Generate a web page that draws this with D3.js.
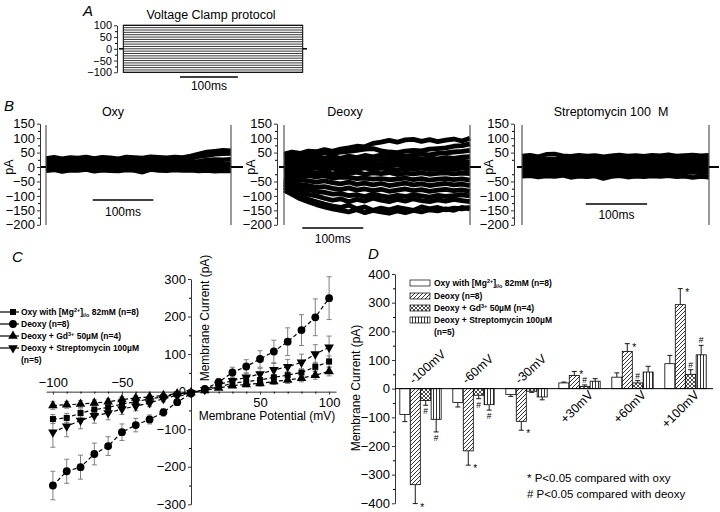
<!DOCTYPE html>
<html>
<head>
<meta charset="utf-8">
<script src="https://cdn.jsdelivr.net/npm/d3@7"></script>
<style>
body { margin: 0; background: #fff; }
svg { display: block; font-family: "Liberation Sans", Arial, sans-serif; }
</style>
</head>
<body>
<svg width="720" height="512"></svg>
<script>
// ---------- data ----------
const protocolSteps = [-100, -90, -80, -70, -60, -50, -40, -30, -20, -10, 0, 10, 20, 30, 40, 50, 60, 70, 80, 90, 100];

// panel B: current traces (pA), sampled along the 300 ms pulse
const oxyTraces = [
  [30, 34, 29, 33, 31, 35, 30, 34, 32, 29, 35, 33, 31, 36, 34, 32, 35, 33, 38, 45, 52, 55, 58, 56],
  [22, 26, 21, 25, 24, 27, 22, 26, 23, 25, 28, 24, 26, 29, 25, 27, 26, 28, 30, 36, 40, 44, 46, 47],
  [14, 17, 12, 16, 15, 18, 13, 17, 15, 14, 18, 16, 14, 19, 16, 15, 18, 16, 17, 20, 24, 26, 25, 27],
  [5, 8, 3, 7, 6, 9, 4, 8, 6, 5, 9, 7, 5, 10, 7, 6, 9, 7, 8, 9, 10, 11, 10, 12],
  [-4, -1, -6, -2, -3, 0, -5, -1, -3, -4, 0, -2, -4, 1, -2, -3, 0, -2, -1, 0, -2, -1, 0, -1],
  [-13, -10, -16, -11, -12, -9, -15, -11, -13, -14, -10, -12, -18, -9, -12, -13, -10, -12, -11, -14, -12, -15, -13, -14]
];
const deoxyTraces = [
  [45, 52, 47, 55, 53, 60, 54, 62, 66, 72, 70, 82, 86, 92, 86, 94, 96, 89, 95, 88, 93, 97, 90, 100],
  [38, 44, 40, 46, 44, 50, 45, 52, 54, 58, 62, 64, 56, 52, 50, 55, 58, 56, 62, 64, 66, 72, 74, 80],
  [30, 35, 28, 34, 36, 31, 36, 30, 38, 33, 40, 35, 41, 37, 43, 38, 41, 45, 42, 47, 49, 52, 54, 58],
  [22, 26, 19, 24, 27, 22, 26, 21, 28, 24, 29, 25, 30, 26, 29, 25, 30, 27, 31, 28, 33, 30, 34, 36],
  [12, 16, 9, 14, 17, 12, 16, 11, 18, 14, 13, 17, 12, 16, 18, 13, 17, 14, 18, 15, 19, 16, 20, 18],
  [2, 6, -1, 4, 7, 1, 5, 0, 6, 3, 2, 6, 1, 4, 7, 2, 5, 3, 6, 3, 7, 4, 8, 5],
  [-8, -4, -11, -6, -3, -9, -4, -10, -5, -8, -3, -9, -4, -7, -11, -5, -8, -4, -9, -6, -5, -8, -4, -7],
  [-18, -15, -22, -17, -20, -16, -24, -19, -22, -18, -25, -20, -23, -19, -26, -21, -24, -20, -25, -22, -20, -24, -21, -23],
  [-28, -26, -32, -30, -34, -30, -38, -35, -36, -40, -38, -42, -40, -44, -42, -38, -44, -40, -45, -42, -40, -44, -41, -45],
  [-36, -42, -44, -48, -52, -48, -54, -58, -52, -60, -56, -62, -57, -64, -60, -56, -62, -58, -64, -60, -57, -62, -59, -64],
  [-44, -54, -60, -64, -70, -68, -74, -78, -72, -80, -76, -82, -77, -84, -80, -76, -82, -78, -84, -80, -77, -82, -79, -84],
  [-52, -64, -72, -78, -84, -88, -94, -92, -99, -96, -102, -94, -100, -104, -98, -102, -96, -100, -104, -98, -102, -99, -96, -100],
  [-60, -75, -85, -95, -100, -108, -115, -110, -120, -112, -118, -108, -115, -120, -112, -118, -110, -116, -120, -114, -118, -112, -116, -120],
  [-70, -88, -100, -112, -120, -128, -135, -140, -132, -145, -138, -150, -142, -148, -140, -145, -150, -138, -145, -140, -148, -142, -145, -140],
  [-80, -95, -110, -120, -130, -138, -145, -150, -155, -148, -158, -150, -155, -160, -152, -158, -150, -155, -148, -152, -145, -150, -140, -145]
];
const streptoTraces = [
  [38, 41, 36, 44, 45, 39, 37, 41, 38, 40, 36, 39, 42, 38, 40, 37, 41, 39, 43, 38, 40, 42, 39, 41],
  [26, 29, 24, 28, 27, 30, 25, 29, 26, 28, 24, 27, 30, 26, 28, 25, 29, 27, 30, 26, 28, 30, 27, 29],
  [14, 17, 12, 16, 15, 18, 13, 17, 14, 16, 12, 15, 18, 14, 16, 13, 17, 15, 18, 14, 16, 18, 15, 17],
  [2, 5, 0, 4, 3, 6, 1, 5, 2, 4, 0, 3, 6, 2, 4, 1, 5, 3, 6, 2, 4, 6, 3, 5],
  [-10, -7, -12, -8, -9, -6, -11, -7, -10, -8, -12, -9, -6, -10, -8, -11, -7, -9, -6, -10, -8, -6, -9, -7],
  [-22, -19, -24, -20, -21, -18, -23, -19, -22, -20, -26, -21, -18, -22, -20, -23, -19, -21, -18, -22, -20, -18, -21, -19],
  [-32, -30, -35, -31, -33, -29, -36, -32, -34, -31, -40, -33, -30, -35, -32, -34, -31, -33, -30, -34, -32, -36, -33, -35]
];

// panel C: I-V relation
const potentials = [-100, -90, -80, -70, -60, -50, -40, -30, -20, -10, 0, 10, 20, 30, 40, 50, 60, 70, 80, 90, 100];
const oxyIV = [-73, -70, -57, -48, -42, -33, -27, -19, -14, -7, -2, 4, 13, 22, 27, 31, 38, 44, 51, 66, 80];
const oxyIVErr = [12, 12, 11, 10, 9, 8, 7, 6, 5, 4, 3, 3, 4, 5, 6, 7, 8, 9, 10, 12, 15];
const deoxyIV = [-250, -212, -201, -166, -145, -108, -89, -74, -55, -28, -5, 7, 25, 51, 67, 87, 107, 133, 164, 198, 249];
const deoxyIVErr = [38, 32, 32, 29, 25, 22, 18, 12, 10, 8, 5, 5, 10, 14, 18, 22, 30, 37, 41, 49, 57];
const gdIV = [-37, -35, -33, -30, -27, -21, -17, -14, -10, -5, -2, 3, 10, 16, 19, 22, 27, 31, 36, 44, 54];
const gdIVErr = [10, 9, 9, 8, 8, 7, 6, 5, 4, 3, 2, 3, 4, 5, 6, 7, 8, 9, 10, 11, 12];
const streptoIV = [-108, -92, -77, -64, -57, -46, -39, -30, -19, -10, -3, 5, 19, 29, 38, 47, 58, 66, 78, 100, 118];
const streptoIVErr = [40, 28, 22, 20, 18, 15, 12, 10, 8, 6, 4, 4, 8, 10, 12, 15, 17, 20, 22, 25, 30];

// panel D: mean currents at selected potentials
const groups = ["-100mV", "-60mV", "-30mV", "+30mV", "+60mV", "+100mV"];
const oxyBar = [-90, -48, -20, 20, 40, 87];
const oxyBarErr = [25, 16, 7, 3, 15, 29];
const deoxyBar = [-335, -217, -114, 46, 130, 293];
const deoxyBarErr = [66, 50, 31, 14, 27, 56];
const gdBar = [-41, -23, -9, 8, 20, 50];
const gdBarErr = [17, 12, 4, 5, 8, 16];
const streptoBar = [-107, -56, -29, 26, 58, 118];
const streptoBarErr = [44, 19, 10, 9, 20, 33];
const deoxyStar = [true, true, true, true, true, true];
const gdHash = [true, true, false, true, true, true];
const streptoHash = [true, true, false, false, false, true];

// ---------- drawing ----------
const svg = d3.select("svg");
const defs = svg.append("defs");

function panelLabel(x, y, t) {
  svg.append("text").attr("x", x).attr("y", y).attr("font-size", 15)
    .attr("font-style", "italic").text(t);
}
function minorTicks(g, axis) {
  g.call(axis);
  g.select(".domain").remove();
  g.selectAll("text").remove();
}
function styleAxis(g, size) {
  g.attr("font-family", null).attr("font-size", size);
  g.selectAll("path,line").attr("stroke", "#333");
}

// ----- A -----
panelLabel(83, 16, "A");
const xA = d3.scaleLinear().domain([0, 310]).range([123.3, 302.7]);
const yA = d3.scaleLinear().domain([-100, 100]).range([72.3, 25.3]);
svg.append("text").attr("x", 211).attr("y", 19).attr("text-anchor", "middle")
  .attr("font-size", 12.5).text("Voltage Clamp protocol");
const gAy = svg.append("g").attr("transform", "translate(117,0)")
  .call(d3.axisLeft(yA).tickValues([100, 50, 0, -50, -100]).tickSize(3).tickSizeOuter(0).tickPadding(2));
styleAxis(gAy, 11);
minorTicks(svg.append("g").attr("transform", "translate(117,0)"),
  d3.axisLeft(yA).tickValues([75, 25, -25, -75]).tickSize(2).tickFormat(""));
svg.append("g").selectAll("line").data(protocolSteps).join("line")
  .attr("x1", xA(0)).attr("x2", xA(310)).attr("y1", d => yA(d)).attr("y2", d => yA(d))
  .attr("stroke", "#3a3a3a").attr("stroke-width", 1);
svg.append("rect").attr("x", xA(0)).attr("y", yA(100)).attr("width", xA(310) - xA(0))
  .attr("height", yA(-100) - yA(100)).attr("fill", "none").attr("stroke", "#000");
svg.append("line").attr("x1", 119).attr("x2", xA(0)).attr("y1", yA(0)).attr("y2", yA(0)).attr("stroke", "#000").attr("stroke-width", 1.5);
svg.append("line").attr("x1", xA(310)).attr("x2", 307).attr("y1", yA(0)).attr("y2", yA(0)).attr("stroke", "#000").attr("stroke-width", 1.5);
svg.append("line").attr("x1", xA(98)).attr("x2", xA(198)).attr("y1", 77).attr("y2", 77).attr("stroke", "#000").attr("stroke-width", 1.5);
svg.append("text").attr("x", xA(148)).attr("y", 90).attr("text-anchor", "middle").attr("font-size", 12).text("100ms");

// ----- B -----
panelLabel(4, 111, "B");
const yB = d3.scaleLinear().domain([-200, 150]).range([224.8, 123.7]);
const bPanels = [
  { title: "Oxy", titleX: 113, axisX: 40, pAx: 9, f0: 46, f1: 231, stubL: 41, stubR: 243, traces: oxyTraces, sw: 4.5,
    ticks: [150, 100, 50, 0, -50, -100, -150, -200], barT: 77, barY: 200, barLabelY: 216 },
  { title: "Deoxy", titleX: 345, axisX: 277, pAx: 251, f0: 284, f1: 470, stubL: 279, stubR: 481, traces: deoxyTraces, sw: 4.8,
    ticks: [150, 100, 50, -50, -100, -150, -200], barT: 30, barY: 228, barLabelY: 243 },
  { title: "Streptomycin 100 \u00a0M", titleX: 611, axisX: 514, pAx: 489, f0: 522, f1: 709, stubL: 517, stubR: 719, traces: streptoTraces, sw: 4.5,
    ticks: [150, 100, 50, -50, -100, -150, -200], barT: 104, barY: 204, barLabelY: 219 }
];
bPanels.forEach(p => {
  const g = svg.append("g");
  g.append("text").attr("x", p.titleX).attr("y", 116).attr("text-anchor", "middle").attr("font-size", 12.5).text(p.title);
  const ga = g.append("g").attr("transform", `translate(${p.axisX},0)`)
    .call(d3.axisLeft(yB).tickValues(p.ticks).tickSize(3).tickSizeOuter(0).tickPadding(2));
  styleAxis(ga, 13);
  minorTicks(g.append("g").attr("transform", `translate(${p.axisX},0)`),
    d3.axisLeft(yB).tickValues([125, 75, 25, -25, -75, -125, -175]).tickSize(2).tickFormat(""));
  g.append("text").attr("transform", `translate(${p.pAx + 4},${yB(0)}) rotate(-90)`)
    .attr("text-anchor", "middle").attr("font-size", 12.5).text("pA");
  // traces
  const xt = d3.scaleLinear().domain([0, p.traces[0].length - 1]).range([p.f0, p.f1]);
  const line = d3.line().x((d, i) => xt(i)).y(d => yB(d));
  g.append("g").selectAll("path").data(p.traces).join("path")
    .attr("d", line).attr("fill", "none").attr("stroke", "#000")
    .attr("stroke-width", p.sw).attr("stroke-linejoin", "round");
  // frame lines and baseline stubs
  [p.f0, p.f1].forEach(x => g.append("line").attr("x1", x).attr("x2", x).attr("y1", 125).attr("y2", 225)
    .attr("stroke", "#555").attr("stroke-width", 1.2));
  g.append("line").attr("x1", p.stubL).attr("x2", p.f0).attr("y1", yB(0)).attr("y2", yB(0)).attr("stroke", "#000").attr("stroke-width", 2);
  g.append("line").attr("x1", p.f1).attr("x2", p.stubR).attr("y1", yB(0)).attr("y2", yB(0)).attr("stroke", "#000").attr("stroke-width", 2);
  // scale bar
  const xs = d3.scaleLinear().domain([0, 305]).range([p.f0, p.f1]);
  g.append("line").attr("x1", xs(p.barT)).attr("x2", xs(p.barT + 100)).attr("y1", p.barY).attr("y2", p.barY)
    .attr("stroke", "#000").attr("stroke-width", 1.5);
  g.append("text").attr("x", xs(p.barT + 50)).attr("y", p.barLabelY).attr("text-anchor", "middle")
    .attr("font-size", 12).text("100ms");
});

// ----- C -----
panelLabel(12, 262, "C");
const xC = d3.scaleLinear().domain([-105, 105]).range([46, 336]);
const yC = d3.scaleLinear().domain([-300, 300]).range([504.3, 279]);
const gC = svg.append("g");
const gCy = gC.append("g").attr("transform", `translate(${xC(0)},0)`)
  .call(d3.axisLeft(yC).tickValues([300, 200, 100, 0, -100, -200, -300]).tickSize(3).tickSizeOuter(0).tickPadding(2));
styleAxis(gCy, 13);
minorTicks(gC.append("g").attr("transform", `translate(${xC(0)},0)`),
  d3.axisLeft(yC).tickValues([250, 150, 50, -50, -150, -250]).tickSize(2).tickFormat(""));
const gCx = gC.append("g").attr("transform", `translate(0,${yC(0)})`)
  .call(d3.axisBottom(xC).tickValues([-100, -50, 50, 100]).tickSize(3).tickSizeOuter(0).tickPadding(3));
styleAxis(gCx, 13);
minorTicks(gC.append("g").attr("transform", `translate(0,${yC(0)})`),
  d3.axisBottom(xC).tickValues(potentials.filter(v => v % 50 !== 0)).tickSize(2).tickFormat(""));
gCx.selectAll(".tick text").filter(d => d < 0).attr("y", -14);
gC.append("text").attr("x", 267).attr("y", 420).attr("text-anchor", "middle").attr("font-size", 12)
  .text("Membrane Potential (mV)");
gC.append("text").attr("transform", "translate(209,318) rotate(-90)").attr("text-anchor", "middle")
  .attr("font-size", 12).text("Membrane Current (pA)");

const ivSeries = [
  { name: "oxy", vals: oxyIV, err: oxyIVErr, sym: d3.symbolSquare, size: 36, rot: 0 },
  { name: "deoxy", vals: deoxyIV, err: deoxyIVErr, sym: d3.symbolCircle, size: 48, rot: 0 },
  { name: "gd", vals: gdIV, err: gdIVErr, sym: d3.symbolTriangle, size: 40, rot: 0 },
  { name: "strepto", vals: streptoIV, err: streptoIVErr, sym: d3.symbolTriangle, size: 40, rot: 180 }
];
ivSeries.forEach(s => {
  const pts = potentials.map((v, i) => ({ v, c: s.vals[i], e: s.err[i] }));
  const eg = gC.append("g").attr("stroke", "#808080").attr("stroke-width", 1);
  eg.selectAll("line.e").data(pts).join("line").attr("class", "e")
    .attr("x1", d => xC(d.v)).attr("x2", d => xC(d.v))
    .attr("y1", d => yC(d.c - d.e)).attr("y2", d => yC(d.c + d.e));
  eg.selectAll("line.t").data(pts).join("line").attr("class", "t")
    .attr("x1", d => xC(d.v) - 2.5).attr("x2", d => xC(d.v) + 2.5)
    .attr("y1", d => yC(d.c + d.e)).attr("y2", d => yC(d.c + d.e));
  eg.selectAll("line.b").data(pts).join("line").attr("class", "b")
    .attr("x1", d => xC(d.v) - 2.5).attr("x2", d => xC(d.v) + 2.5)
    .attr("y1", d => yC(d.c - d.e)).attr("y2", d => yC(d.c - d.e));
});
ivSeries.forEach(s => {
  const pts = potentials.map((v, i) => ({ v, c: s.vals[i] }));
  gC.append("path").datum(pts)
    .attr("d", d3.line().x(d => xC(d.v)).y(d => yC(d.c)))
    .attr("fill", "none").attr("stroke", "#000").attr("stroke-width", 1.2).attr("stroke-dasharray", "4,2.5");
  gC.append("g").selectAll("path").data(pts).join("path")
    .attr("d", d3.symbol(s.sym, s.size))
    .attr("transform", d => `translate(${xC(d.v)},${yC(d.c)}) rotate(${s.rot})`)
    .attr("fill", "#000");
});

// legend C
const legC = gC.append("g").attr("font-size", 8.5).attr("font-weight", "bold");
const legRowsC = [312, 324, 336, 348];
ivSeries.forEach((s, i) => {
  const y = legRowsC[i];
  legC.append("line").attr("x1", 0).attr("x2", 19).attr("y1", y).attr("y2", y).attr("stroke", "#000").attr("stroke-width", 1.2);
  legC.append("path").attr("d", d3.symbol(s.sym, s.size)).attr("transform", `translate(13,${y}) rotate(${s.rot})`);
});
function legendTexts(g, x, rows) {
  const t1 = g.append("text").attr("x", x).attr("y", rows[0] + 3);
  t1.append("tspan").text("Oxy with [Mg");
  t1.append("tspan").attr("font-size", 5.5).attr("dy", -3).text("2+");
  t1.append("tspan").attr("dy", 3).text("]");
  t1.append("tspan").attr("font-size", 5.5).attr("dy", 2).text("i/o");
  t1.append("tspan").attr("dy", -2).text(" 82mM (n=8)");
  g.append("text").attr("x", x).attr("y", rows[1] + 3).text("Deoxy (n=8)");
  const t3 = g.append("text").attr("x", x).attr("y", rows[2] + 3);
  t3.append("tspan").text("Deoxy + Gd");
  t3.append("tspan").attr("font-size", 5.5).attr("dy", -3).text("3+");
  t3.append("tspan").attr("dy", 3).text(" 50\u00b5M (n=4)");
  g.append("text").attr("x", x).attr("y", rows[3] + 3).text("Deoxy + Streptomycin 100\u00b5M");
  g.append("text").attr("x", x).attr("y", rows[3] + 15).text("(n=5)");
}
legendTexts(legC, 21, legRowsC);

// ----- D -----
panelLabel(368, 259, "D");
// fill patterns
const pDiag = defs.append("pattern").attr("id", "diag").attr("patternUnits", "userSpaceOnUse").attr("width", 4).attr("height", 4);
pDiag.append("rect").attr("width", 4).attr("height", 4).attr("fill", "#fff");
pDiag.append("path").attr("d", "M-1,1 l2,-2 M0,4 l4,-4 M3,5 l2,-2").attr("stroke", "#000").attr("stroke-width", 0.8);
const pCross = defs.append("pattern").attr("id", "cross").attr("patternUnits", "userSpaceOnUse").attr("width", 4).attr("height", 4);
pCross.append("rect").attr("width", 4).attr("height", 4).attr("fill", "#fff");
pCross.append("path").attr("d", "M-1,1 l2,-2 M0,4 l4,-4 M3,5 l2,-2 M-1,3 l2,2 M0,0 l4,4 M3,-1 l2,2").attr("stroke", "#000").attr("stroke-width", 0.7);
const pVert = defs.append("pattern").attr("id", "vert").attr("patternUnits", "userSpaceOnUse").attr("width", 3).attr("height", 4);
pVert.append("rect").attr("width", 3).attr("height", 4).attr("fill", "#fff");
pVert.append("path").attr("d", "M1.5,0 V4").attr("stroke", "#000").attr("stroke-width", 0.8);

const yD = d3.scaleLinear().domain([-400, 400]).range([503.3, 274]);
const xD = d3.scaleBand().domain(groups).range([394, 712]).paddingInner(0.22).paddingOuter(0.11);
const barSeries = [
  { key: "oxy", vals: oxyBar, err: oxyBarErr, fill: "#fff" },
  { key: "deoxy", vals: deoxyBar, err: deoxyBarErr, fill: "url(#diag)" },
  { key: "gd", vals: gdBar, err: gdBarErr, fill: "url(#cross)" },
  { key: "strepto", vals: streptoBar, err: streptoBarErr, fill: "url(#vert)" }
];
const xSub = d3.scaleBand().domain(barSeries.map(s => s.key)).range([0, xD.bandwidth()]).paddingInner(0.04);
const gD = svg.append("g");
const gDy = gD.append("g").attr("transform", "translate(395,0)")
  .call(d3.axisLeft(yD).tickValues([400, 300, 200, 100, 0, -100, -200, -300, -400]).tickSize(3).tickSizeOuter(0).tickPadding(2));
styleAxis(gDy, 13);
minorTicks(gD.append("g").attr("transform", "translate(395,0)"),
  d3.axisLeft(yD).tickValues([350, 250, 150, 50, -50, -150, -250, -350]).tickSize(2).tickFormat(""));
gD.append("text").attr("transform", "translate(360,388) rotate(-90)").attr("text-anchor", "middle")
  .attr("font-size", 12).text("Membrane Current (pA)");

barSeries.forEach(s => {
  const data = groups.map((gname, i) => ({ g: gname, v: s.vals[i], e: s.err[i] }));
  const bg = gD.append("g");
  bg.selectAll("line.e").data(data).join("line").attr("class", "e")
    .attr("x1", d => xD(d.g) + xSub(s.key) + xSub.bandwidth() / 2)
    .attr("x2", d => xD(d.g) + xSub(s.key) + xSub.bandwidth() / 2)
    .attr("y1", d => yD(d.v)).attr("y2", d => yD(d.v + Math.sign(d.v) * d.e))
    .attr("stroke", "#000").attr("stroke-width", 0.9);
  bg.selectAll("line.c").data(data).join("line").attr("class", "c")
    .attr("x1", d => xD(d.g) + xSub(s.key) + xSub.bandwidth() / 2 - 2.5)
    .attr("x2", d => xD(d.g) + xSub(s.key) + xSub.bandwidth() / 2 + 2.5)
    .attr("y1", d => yD(d.v + Math.sign(d.v) * d.e)).attr("y2", d => yD(d.v + Math.sign(d.v) * d.e))
    .attr("stroke", "#000").attr("stroke-width", 0.9);
  bg.selectAll("rect").data(data).join("rect")
    .attr("x", d => xD(d.g) + xSub(s.key)).attr("width", xSub.bandwidth())
    .attr("y", d => yD(Math.max(0, d.v))).attr("height", d => Math.abs(yD(d.v) - yD(0)))
    .attr("fill", s.fill).attr("stroke", "#000").attr("stroke-width", 0.8);
});
gD.append("line").attr("x1", 395).attr("x2", 713).attr("y1", yD(0)).attr("y2", yD(0)).attr("stroke", "#000").attr("stroke-width", 1);

// significance marks
function marks(series, flags, sym, dx, sizes) {
  groups.forEach((gname, i) => {
    if (!flags[i]) return;
    const v = series.vals[i], e = series.err[i];
    const end = yD(v + Math.sign(v) * e);
    const cx = xD(gname) + xSub(series.key) + xSub.bandwidth() / 2 + dx;
    let y;
    if (sym === "*") y = end + 7;
    else y = v > 0 ? end - 2 : end + 9;
    gD.append("text").attr("x", cx).attr("y", y).attr("text-anchor", "middle")
      .attr("font-size", sizes).text(sym);
  });
}
marks(barSeries[1], deoxyStar, "*", 7, 10);
marks(barSeries[2], gdHash, "#", 0, 8.5);
marks(barSeries[3], streptoHash, "#", 0, 8.5);

// group labels
groups.forEach((gname, i) => {
  const neg = gname.startsWith("-");
  const x0 = xD(gname);
  if (neg) {
    gD.append("text").attr("transform", `translate(${x0 + 14},${yD(0) - 4}) rotate(-42)`)
      .attr("font-size", 12.5).text(gname);
  } else {
    gD.append("text").attr("transform", `translate(${x0 + 35},${yD(0) + 7}) rotate(-45)`)
      .attr("text-anchor", "end").attr("font-size", 12.5).text(gname);
  }
});

// legend D
const legD = gD.append("g").attr("font-size", 8.5).attr("font-weight", "bold");
const legRowsD = [283, 296, 308, 320];
barSeries.forEach((s, i) => {
  legD.append("rect").attr("x", 410).attr("y", legRowsD[i] - 3).attr("width", 20).attr("height", 6)
    .attr("fill", s.fill).attr("stroke", "#000").attr("stroke-width", 0.7);
});
legendTexts(legD, 434, legRowsD);

gD.append("text").attr("x", 527).attr("y", 482).attr("font-size", 11.5).text("* P<0.05 compared with oxy");
gD.append("text").attr("x", 527).attr("y", 498).attr("font-size", 11.5).text("# P<0.05 compared with deoxy");
</script>
</body>
</html>
